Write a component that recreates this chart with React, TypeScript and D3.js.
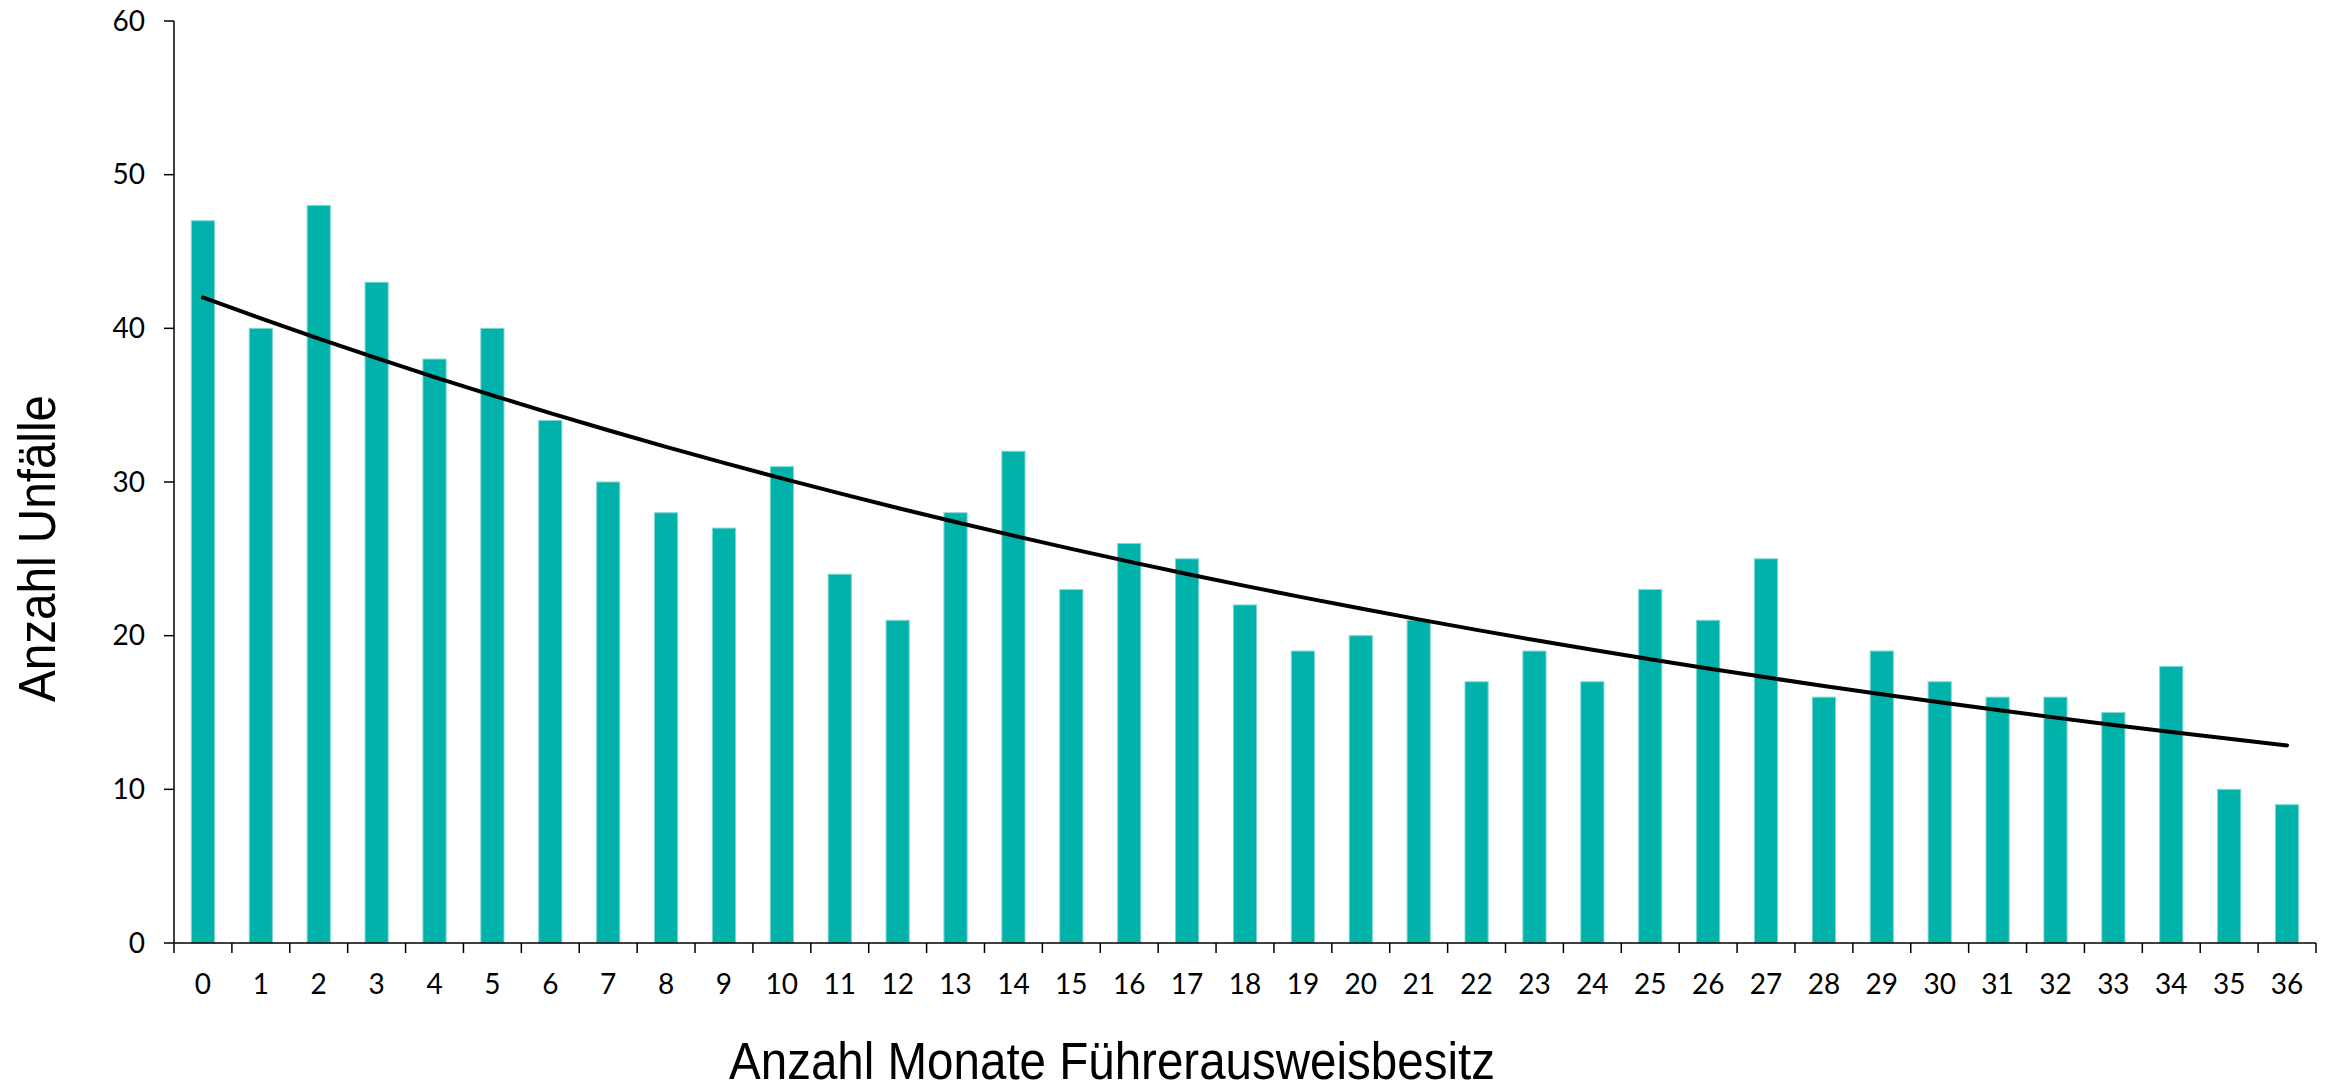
import React from "react";
import * as d3 from "d3";

const months: number[] = Array.from({ length: 37 }, (_, i) => i);
const accidents: number[] = [
  47, 40, 48, 43, 38, 40, 34, 30, 28, 27, 31, 24, 21, 28, 32, 23, 26, 25, 22,
  19, 20, 21, 17, 19, 17, 23, 21, 25, 16, 19, 17, 16, 16, 15, 18, 10, 9,
];
const yTicks: number[] = [0, 10, 20, 30, 40, 50, 60];
const xTitle = "Anzahl Monate Führerausweisbesitz";
const yTitle = "Anzahl Unfälle";

const W = 2333;
const H = 1087;
const left = 174;
const right = 2316;
const top = 21;
const bottom = 943;

// Exponential trendline (least squares on ln y), like a spreadsheet trendline
function expFit(xs: number[], ys: number[]) {
  const ly = ys.map((v) => Math.log(v));
  const mx = d3.mean(xs) as number;
  const my = d3.mean(ly) as number;
  let sxy = 0;
  let sxx = 0;
  xs.forEach((x, i) => {
    sxy += (x - mx) * (ly[i] - my);
    sxx += (x - mx) * (x - mx);
  });
  const b = sxy / sxx;
  const a = Math.exp(my - b * mx);
  return (x: number) => a * Math.exp(b * x);
}

export default function App() {
  const x = d3
    .scaleBand<number>()
    .domain(months)
    .range([left, right])
    .paddingInner(0)
    .paddingOuter(0);
  const y = d3.scaleLinear().domain([0, 60]).range([bottom, top]);
  const step = x.step();
  const barW = step * 0.4;
  const fit = expFit(months, accidents);
  const trend = d3
    .line<number>()
    .x((m) => (x(m) as number) + step / 2)
    .y((m) => y(fit(m)))
    .curve(d3.curveMonotoneX);

  const boundaries = [...months.map((m) => x(m) as number), right];

  const tickFont = "Lato, 'Open Sans', sans-serif";
  const titleFont = "'Liberation Sans Narrow', 'Arial Narrow', 'Liberation Sans', Arial, sans-serif";

  return (
    <svg
      width={W}
      height={H}
      style={{ position: "absolute", left: 0, top: 0, display: "block", background: "#fff" }}
    >
      <rect x={0} y={0} width={W} height={H} fill="#fff" />
      {months.map((m, i) => (
        <rect
          key={m}
          x={(x(m) as number) + (step - barW) / 2}
          y={y(accidents[i])}
          width={barW}
          height={bottom - y(accidents[i])}
          fill="#00b2aa"
          stroke="#7fd6d2"
          strokeWidth={1}
        />
      ))}
      <path
        d={trend(months) as string}
        fill="none"
        stroke="#000"
        strokeWidth={4}
        strokeLinecap="round"
      />
      <line x1={left} x2={left} y1={top} y2={bottom} stroke="#000" strokeWidth={1.5} />
      {yTicks.map((t) => (
        <g key={t}>
          <line x1={left - 10} x2={left} y1={y(t)} y2={y(t)} stroke="#000" strokeWidth={1.5} />
          <text
            x={145}
            y={y(t)}
            dy="0.35em"
            textAnchor="end"
            fontFamily={tickFont}
            fontSize={28}
            fill="#000"
          >
            {t}
          </text>
        </g>
      ))}
      <line x1={left} x2={right} y1={bottom} y2={bottom} stroke="#000" strokeWidth={1.5} />
      {boundaries.map((bx, i) => (
        <line key={i} x1={bx} x2={bx} y1={bottom} y2={bottom + 10} stroke="#000" strokeWidth={1.5} />
      ))}
      {months.map((m) => (
        <text
          key={m}
          x={(x(m) as number) + step / 2}
          y={994}
          textAnchor="middle"
          fontFamily={tickFont}
          fontSize={28}
          fill="#000"
        >
          {m}
        </text>
      ))}
      <text
        x={729}
        y={1079}
        textLength={766}
        lengthAdjust="spacingAndGlyphs"
        fontFamily={titleFont}
        fontSize={51}
        fill="#000"
      >
        {xTitle}
      </text>
      <text
        transform={`translate(55, 702) rotate(-90)`}
        textLength={307}
        lengthAdjust="spacingAndGlyphs"
        fontFamily={titleFont}
        fontSize={51}
        fill="#000"
      >
        {yTitle}
      </text>
    </svg>
  );
}
